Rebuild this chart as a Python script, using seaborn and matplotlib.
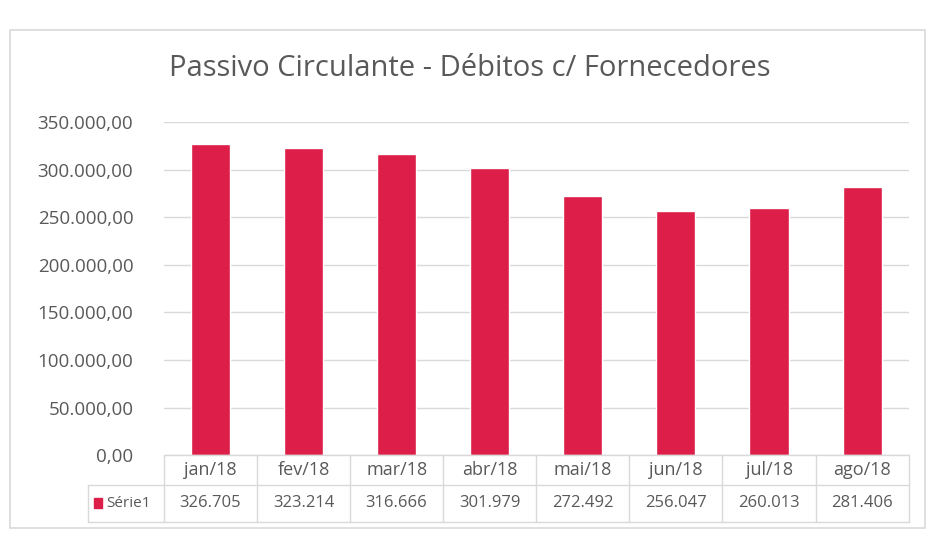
import matplotlib
matplotlib.use("Agg")
import matplotlib.pyplot as plt
import pandas as pd
import seaborn as sns
from matplotlib.patches import Rectangle

meses = ["jan/18", "fev/18", "mar/18", "abr/18", "mai/18", "jun/18", "jul/18", "ago/18"]
valores = [326705, 323214, 316666, 301979, 272492, 256047, 260013, 281406]
rotulos_tabela = ["326.705", "323.214", "316.666", "301.979", "272.492", "256.047", "260.013", "281.406"]
serie = "Série1"
titulo = "Passivo Circulante - Débitos c/ Fornecedores"

sns.set_style("white")
plt.rcParams["font.family"] = ["Open Sans", "DejaVu Sans"]

cor_barra = "#DC1E48"
cor_texto = "#595959"
cor_linha = "#D9D9D9"

df = pd.DataFrame({"mes": meses, "valor": valores})

fig = plt.figure(figsize=(9.31, 5.45), dpi=100)
ax = fig.add_axes([0.176, 0.165, 0.800, 0.611])

sns.barplot(data=df, x="mes", y="valor", color=cor_barra, width=0.42,
            saturation=1, ax=ax)

ax.set_ylim(0, 350000)
ax.set_xlim(-0.5, len(meses) - 0.5)
ticks = list(range(0, 350001, 50000))
ax.set_yticks(ticks)
ax.set_yticklabels([f"{t:,.2f}".replace(",", "X").replace(".", ",").replace("X", ".") for t in ticks],
                   color=cor_texto, fontsize=13.5)
ax.tick_params(axis="y", length=0, pad=22)
ax.set_xticks([])
ax.set_xlabel("")
ax.set_ylabel("")
ax.grid(axis="y", color=cor_linha, linewidth=1)
ax.set_axisbelow(True)
for s in ax.spines.values():
    s.set_visible(False)

fig.text(470 / 931, 1 - 68 / 545, titulo, fontsize=21, color=cor_texto,
         ha="center", va="center")

# tabela de dados abaixo do eixo
tr = ax.get_xaxis_transform()
n = len(meses)
y1, y2 = -0.09, -0.20
x_leg = -1.32
kw = dict(transform=tr, clip_on=False, color=cor_linha, linewidth=1)
ax.plot([-0.5, n - 0.5], [0, 0], **kw)
ax.plot([x_leg, n - 0.5], [y1, y1], **kw)
ax.plot([x_leg, n - 0.5], [y2, y2], **kw)
ax.plot([x_leg, x_leg], [y1, y2], **kw)
for i in range(n + 1):
    ax.plot([i - 0.5, i - 0.5], [0, y2], **kw)

for i, (m, r) in enumerate(zip(meses, rotulos_tabela)):
    ax.text(i, (0 + y1) / 2, m, transform=tr, ha="center", va="center",
            fontsize=13, color=cor_texto)
    ax.text(i, (y1 + y2) / 2, r, transform=tr, ha="center", va="center",
            fontsize=12, color=cor_texto)

ax.add_patch(Rectangle((x_leg + 0.07, (y1 + y2) / 2 - 0.015), 0.09, 0.03,
                       transform=tr, clip_on=False, color=cor_barra))
ax.text(x_leg + 0.2, (y1 + y2) / 2, serie, transform=tr, ha="left", va="center",
        fontsize=11, color=cor_texto)

# moldura do gráfico
fig.patches.append(Rectangle((10 / 931, 1 - 528 / 545), 915 / 931, 498 / 545,
                             transform=fig.transFigure, fill=False,
                             edgecolor=cor_linha, linewidth=1.2))

fig.savefig("out.png", dpi=100, facecolor="white")
